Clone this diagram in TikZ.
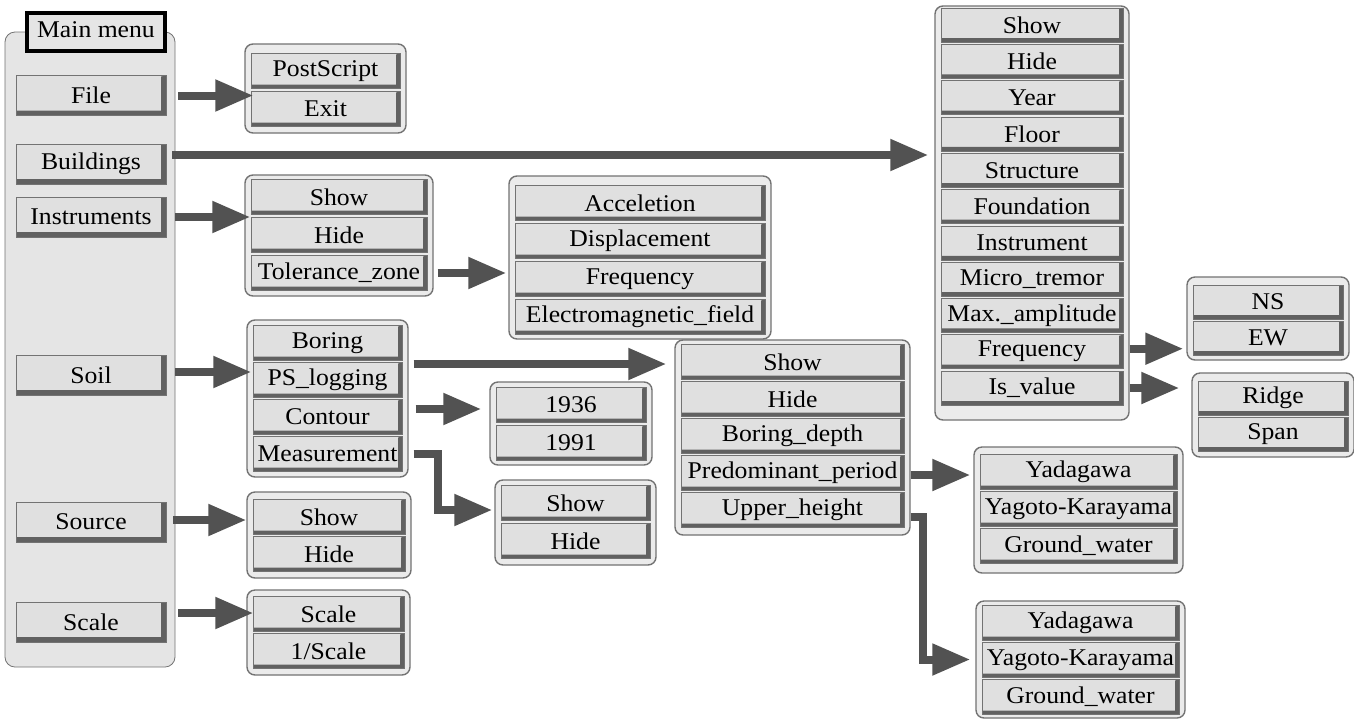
\documentclass[tikz,border=0pt]{standalone}
\usepackage{fontspec}
\setmainfont{Liberation Serif}[FakeStretch=1.07]
\usetikzlibrary{arrows.meta}
\tikzset{
  bevel/.style={path picture={
    \fill[black!62] (path picture bounding box.south west) -- (path picture bounding box.south east)
      -- (path picture bounding box.north east) -- ([shift={(-#1,-1pt)}]path picture bounding box.north east)
      -- ([shift={(-#1,#1)}]path picture bounding box.south east) -- ([shift={(1pt,#1)}]path picture bounding box.south west) -- cycle;
  }},
  txt/.style={font=\fontsize{24}{26}\selectfont},
  btn/.style={bevel=5pt, draw=black!55, line width=0.7pt, fill=black!12, minimum width=150pt, minimum height=40pt, inner sep=0pt, txt},
  item/.style={bevel=4pt, draw=black!55, line width=0.6pt, fill=black!12, minimum height=35pt, inner sep=0pt, txt},
  panel/.style={draw=black!55, line width=1.4pt, rounded corners=8pt, fill=black!8, inner sep=0pt},
  mainpanel/.style={draw=black!55, line width=0.8pt, rounded corners=10pt, fill=black!10, inner sep=0pt},
  mlabel/.style={draw=black, line width=3.5pt, fill=black!10, minimum width=138pt, minimum height=38pt, inner sep=0pt, txt},
  arr/.style={draw=black!68, line width=8pt, -{Triangle[length=38pt,width=30pt]}, line join=miter},
}
\begin{document}
\begin{tikzpicture}[x=1pt,y=-1pt]
\useasboundingbox[fill=white] (0,0) rectangle (1354,721);

% main menu
\node[mainpanel, minimum width=170pt, minimum height=635pt] (pMain) at (90,349.5) {};
\node[mlabel] (mm) at (96,32) {\raisebox{4pt}{Main menu}};
\node[btn] (bFile) at (91,95.5) {File};
\node[btn] (bBuild) at (91,164) {Buildings};
\node[btn] (bInst) at (91,217) {Instruments};
\node[btn] (bSoil) at (91,375) {Soil};
\node[btn] (bSource) at (91,522) {Source};
\node[btn] (bScale) at (91,622) {Scale};

% File panel
\node[panel, minimum width=161pt, minimum height=89pt] (pFile) at (325.5,88.5) {};
\node[item, minimum width=149pt] (iPost) at (325.5,71) {PostScript};
\node[item, minimum width=149pt] (iExit) at (325.5,109) {Exit};

% Instruments panel
\node[panel, minimum width=188pt, minimum height=121pt] (pInst) at (339,235.5) {};
\node[item, minimum width=176pt] (iIShow) at (339,197) {Show};
\node[item, minimum width=176pt] (iIHide) at (339,235) {Hide};
\node[item, minimum width=176pt] (iTol) at (339,273) {Tolerance\_zone};

% Acceleration panel
\node[panel, minimum width=262pt, minimum height=163pt] (pAcc) at (640,257.5) {};
\node[item, minimum width=250pt] (iAcc) at (640,203) {Acceletion};
\node[item, minimum width=250pt] (iDisp) at (640,241) {Displacement};
\node[item, minimum width=250pt] (iAFreq) at (640,279) {Frequency};
\node[item, minimum width=250pt] (iElec) at (640,317) {Electromagnetic\_field};

% Buildings panel
\node[panel, minimum width=194pt, minimum height=414pt] (pBuild) at (1032,213) {};
\foreach \t [count=\i from 0] in {Show,Hide,Year,Floor,Structure,Foundation,Instrument,Micro\_tremor,Max.\_amplitude,Frequency,Is\_value}
  \node[item, minimum width=182pt, minimum height=34pt] (iB\i) at (1032,25+36.3*\i) {\t};

% NS / EW
\node[panel, minimum width=162pt, minimum height=83pt] (pNS) at (1268,318.5) {};
\node[item, minimum width=150pt, minimum height=34pt] (iNS) at (1268,302) {NS};
\node[item, minimum width=150pt, minimum height=34pt] (iEW) at (1268,338) {EW};

% Ridge / Span
\node[panel, minimum width=162pt, minimum height=84pt] (pRidge) at (1273,415) {};
\node[item, minimum width=150pt, minimum height=34pt] (iRidge) at (1273,398) {Ridge};
\node[item, minimum width=150pt, minimum height=34pt] (iSpan) at (1273,434) {Span};

% Soil panel
\node[panel, minimum width=161pt, minimum height=157pt] (pSoil) at (327.5,398.5) {};
\node[item, minimum width=149pt] (iBoring) at (327.5,343) {Boring};
\node[item, minimum width=149pt] (iPS) at (327.5,380) {PS\_logging};
\node[item, minimum width=149pt] (iCont) at (327.5,417) {Contour};
\node[item, minimum width=149pt] (iMeas) at (327.5,454) {Measurement};

% 1936 / 1991
\node[panel, minimum width=162pt, minimum height=83pt] (pYear) at (571,423.5) {};
\node[item, minimum width=150pt] (i1936) at (571,405) {1936};
\node[item, minimum width=150pt] (i1991) at (571,443) {1991};

% Measurement Show/Hide
\node[panel, minimum width=161pt, minimum height=85pt] (pMeas) at (575.5,522.5) {};
\node[item, minimum width=149pt] (iMShow) at (575.5,503) {Show};
\node[item, minimum width=149pt] (iMHide) at (575.5,541) {Hide};

% Boring panel
\node[panel, minimum width=235pt, minimum height=195pt] (pBor) at (792.5,437.5) {};
\node[item, minimum width=223pt] (iBShow) at (792.5,362) {Show};
\node[item, minimum width=223pt] (iBHide) at (792.5,399) {Hide};
\node[item, minimum width=223pt] (iBDepth) at (792.5,436) {Boring\_depth};
\node[item, minimum width=223pt] (iPred) at (792.5,473) {Predominant\_period};
\node[item, minimum width=223pt] (iUpper) at (792.5,510) {Upper\_height};

% Source panel
\node[panel, minimum width=164pt, minimum height=86pt] (pSource) at (329,535) {};
\node[item, minimum width=152pt] (iSShow) at (329,517) {Show};
\node[item, minimum width=152pt] (iSHide) at (329,554) {Hide};

% Scale panel
\node[panel, minimum width=163pt, minimum height=85pt] (pScale) at (328.5,632.5) {};
\node[item, minimum width=151pt] (iScale) at (328.5,614) {Scale};
\node[item, minimum width=151pt] (iInv) at (328.5,651) {1/Scale};

% Yadagawa panels
\node[panel, minimum width=209pt, minimum height=126pt] (pYad1) at (1078.5,510) {};
\node[item, minimum width=197pt] (iY1a) at (1078.5,472) {Yadagawa};
\node[item, minimum width=197pt] (iY1b) at (1078.5,509) {Yagoto-Karayama};
\node[item, minimum width=197pt] (iY1c) at (1078.5,546) {Ground\_water};
\node[panel, minimum width=209pt, minimum height=117pt] (pYad2) at (1080.5,659.5) {};
\node[item, minimum width=197pt] (iY2a) at (1080.5,623) {Yadagawa};
\node[item, minimum width=197pt] (iY2b) at (1080.5,660) {Yagoto-Karayama};
\node[item, minimum width=197pt] (iY2c) at (1080.5,697) {Ground\_water};

% arrows from main menu
\draw[arr, shorten >=3pt] ([xshift=12pt]bFile.east) -- ([xshift=12pt]bFile.east -| pFile.west);
\draw[arr, shorten >=12pt] ([xshift=6pt,yshift=9pt]bBuild.east) -- ([xshift=6pt,yshift=9pt]bBuild.east -| pBuild.west);
\draw[arr, shorten >=3pt] ([xshift=9pt]bInst.east) -- ([xshift=9pt]bInst.east -| pInst.west);
\draw[arr, shorten >=4pt] ([xshift=9pt,yshift=3pt]bSoil.east) -- ([xshift=9pt,yshift=3pt]bSoil.east -| pSoil.west);
\draw[arr, shorten >=7pt] ([xshift=7pt,yshift=2pt]bSource.east) -- ([xshift=7pt,yshift=2pt]bSource.east -| pSource.west);
\draw[arr, shorten >=5pt] ([xshift=12pt,yshift=9pt]bScale.east) -- ([xshift=12pt,yshift=9pt]bScale.east -| pScale.west);

% sub arrows
\draw[arr, shorten >=2pt] ([xshift=4pt]iTol.east -| pInst.east) -- (iTol.east -| pAcc.west);
\draw[arr, shorten >=8pt] ([xshift=5pt,yshift=16pt]iPS.east -| pSoil.east) -- ([yshift=16pt]iPS.east -| pBor.west);
\draw[arr, shorten >=8pt] ([xshift=7pt,yshift=8pt]iCont.east -| pSoil.east) -- ([yshift=8pt]iCont.east -| pYear.west);
\draw[arr, shorten >=2pt] ([xshift=5pt]iMeas.east -| pSoil.east) -- ++(24pt,0) |- ([yshift=12.5pt]pMeas.west);
\draw[arr, shorten >=3pt] ([yshift=3pt]iB9.east -| pBuild.east) -- ([yshift=3pt]iB9.east -| pNS.west);
\draw[arr, shorten >=12pt] (iB10.east -| pBuild.east) -- (iB10.east -| pRidge.west);
\draw[arr, shorten >=3pt] ([yshift=-2pt]iPred.east -| pBor.east) -- ([yshift=-2pt]iPred.east -| pYad1.west);
\draw[arr, shorten >=5pt] ([yshift=-7pt]iUpper.east -| pBor.east) -- ++(12pt,0) |- (pYad2.west);
\end{tikzpicture}
\end{document}
